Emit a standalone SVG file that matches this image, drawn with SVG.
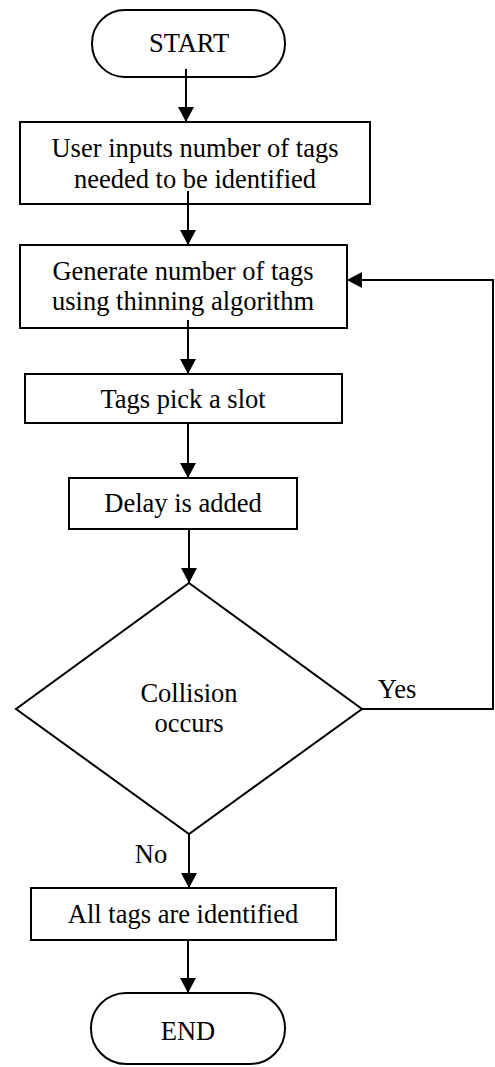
<svg xmlns="http://www.w3.org/2000/svg" width="495" height="1067" viewBox="0 0 495 1067">
<style>
.s{fill:#fff;stroke:#000;stroke-width:2}
.t{font-family:"Liberation Serif","Times New Roman",serif;font-size:26.5px;fill:#000;text-anchor:middle}
.c{fill:none;stroke:#000;stroke-width:2}
</style>
<defs>
<marker id="ah" viewBox="0 0 15 16" refX="15" refY="8" markerWidth="15" markerHeight="16" markerUnits="userSpaceOnUse" orient="auto">
<path d="M0,0 L15,8 L0,16 z" fill="#000"/>
</marker>
</defs>
<rect width="495" height="1067" fill="#fff"/>
<g id="start"><rect class="s" x="92" y="10" width="193" height="67" rx="33" ry="33"/><text class="t" x="189" y="52">START</text></g>
<g id="input"><rect class="s" x="20" y="122" width="350" height="82"/><text class="t" x="195" y="157">User inputs number of tags</text><text class="t" x="195" y="188">needed to be identified</text></g>
<g id="generate"><rect class="s" x="20" y="245" width="327" height="83"/><text class="t" x="183" y="280">Generate number of tags</text><text class="t" x="183" y="310">using thinning algorithm</text></g>
<g id="pick"><rect class="s" x="25" y="374" width="317" height="49"/><text class="t" x="183" y="408">Tags pick a slot</text></g>
<g id="delay"><rect class="s" x="69" y="478" width="228" height="51"/><text class="t" x="183" y="512">Delay is added</text></g>
<g id="collision"><polygon class="s" points="189,583 362,709 189,834 16,709"/><text class="t" x="189" y="702">Collision</text><text class="t" x="189" y="732">occurs</text></g>
<g id="identified"><rect class="s" x="31" y="888" width="305" height="52"/><text class="t" x="183" y="923">All tags are identified</text></g>
<g id="end"><rect class="s" x="91" y="993" width="194" height="71" rx="35" ry="35"/><text class="t" x="188" y="1040">END</text></g>
<g id="connectors">
<line class="c" x1="186" y1="69" x2="186" y2="122" marker-end="url(#ah)"/>
<line class="c" x1="188" y1="191" x2="188" y2="245" marker-end="url(#ah)"/>
<line class="c" x1="188" y1="320" x2="188" y2="374" marker-end="url(#ah)"/>
<line class="c" x1="188" y1="423" x2="188" y2="478" marker-end="url(#ah)"/>
<line class="c" x1="189" y1="529" x2="189" y2="583" marker-end="url(#ah)"/>
<polyline class="c" points="362,709 493,709 493,280 347,280" marker-end="url(#ah)"/>
<line class="c" x1="189" y1="834" x2="189" y2="888" marker-end="url(#ah)"/>
<line class="c" x1="188" y1="940" x2="188" y2="993" marker-end="url(#ah)"/>
<text class="t" x="397" y="698">Yes</text>
<text class="t" x="151" y="863">No</text>
</g>
</svg>
